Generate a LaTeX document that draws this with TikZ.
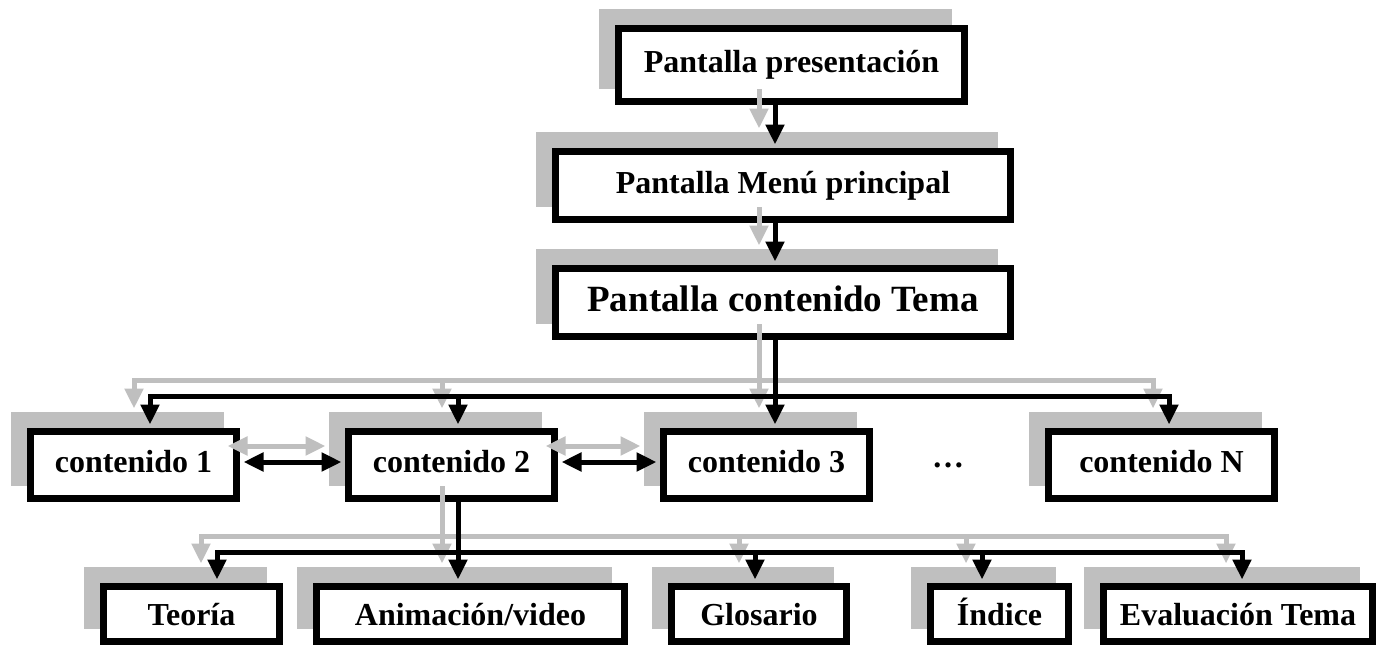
\documentclass[tikz,border=0pt]{standalone}
\usepackage{fontspec}
\setmainfont{Liberation Serif}
\usetikzlibrary{arrows.meta, positioning, shadows}
\tikzset{
    % Screen box style
    screen/.style={
        rectangle,
        draw=black,
        fill=white,
        line width=7pt,
        inner sep=0pt,
        minimum height=67pt,
        text height=22pt,
        text depth=7pt,
        align=center,
        font=\fontsize{32}{38}\selectfont\bfseries,
        drop shadow={shadow xshift=-16pt, shadow yshift=16pt, fill=black!25, draw=black!25, opacity=1}
    },
    % Bottom row box
    section/.style={
        screen,
        minimum height=55pt,
        text depth=0pt
    },
    % Arrow style
    arrow/.style={
        -{Triangle[length=20pt,width=18pt]},
        line width=5pt,
        color=black,
        shorten >=3.5pt
    },
    % Two-way arrow
    twoway/.style={
        arrow,
        {Triangle[length=20pt,width=18pt]}-{Triangle[length=20pt,width=18pt]},
        shorten <=3.5pt
    },
    % Plain connector
    link/.style={
        line width=5pt,
        color=black
    },
    % Grey copy of the connectors
    ghost/.style={
        color=black!25,
        transform canvas={shift={(-16pt,16pt)}}
    }
}
\begin{document}
\begin{tikzpicture}[x=1pt, y=-1pt]
    \useasboundingbox (0,0) rectangle (1381,645);

    % Main screens
    \node (pres) [screen, minimum width=346pt, minimum height=73pt] at (791.5,65) {Pantalla presentación};
    \node (menu) [screen, minimum width=455pt, minimum height=68pt] at (783,185.5) {Pantalla Menú principal};
    \node (tema) [screen, minimum width=455pt, minimum height=68pt, text height=25pt, text depth=8pt,
        font=\fontsize{37}{44}\selectfont\bfseries] at (783,302.5) {Pantalla contenido Tema};

    % Contents
    \node (c1) [screen, minimum width=206pt] at (133.5,465) {contenido 1};
    \node (c2) [screen, minimum width=206pt] at (451.5,465) {contenido 2};
    \node (c3) [screen, minimum width=206pt] at (766.5,465) {contenido 3};
    \node (dots) [font=\fontsize{32}{38}\selectfont\bfseries] at (948,465) {…};
    \node (cN) [screen, minimum width=226pt] at (1161.5,465) {contenido N};

    % Sections of a content
    \node (teoria) [section, minimum width=176pt] at (191.5,614) {Teoría};
    \node (anim) [section, minimum width=308pt] at (470.5,614) {Animación/video};
    \node (glos) [section, minimum width=175pt] at (759,614) {Glosario};
    \node (indice) [section, minimum width=138pt] at (999.5,614) {Índice};
    \node (eval) [section, minimum width=269pt] at (1238,614) {Evaluación Tema};

    \coordinate (spine) at (775,0);
    \coordinate (bus1) at (775,396);
    \coordinate (bus2) at (458,552);

    % Grey connectors
    \draw [arrow, ghost] (pres.south -| spine) -- (menu.north -| spine);
    \draw [arrow, ghost] (menu.south -| spine) -- (tema.north -| spine);
    \draw [link, ghost] (tema.south -| spine) -- (bus1);
    \draw [arrow, ghost] (bus1) -| ([xshift=16.5pt]c1.north);
    \draw [arrow, ghost] (bus1) -| ([xshift=6.5pt]c2.north);
    \draw [arrow, ghost] (bus1) -| (c3.north -| spine);
    \draw [arrow, ghost] (bus1) -| ([xshift=7.5pt]cN.north);
    \draw [twoway, ghost] ([yshift=3pt]c1.east) -- ([yshift=3pt]c2.west);
    \draw [twoway, ghost] ([yshift=3pt]c2.east) -- ([yshift=3pt]c3.west);
    \draw [link, ghost] (c2.south -| bus2) -- (bus2);
    \draw [arrow, ghost] (bus2) -| ([xshift=25.5pt]teoria.north);
    \draw [arrow, ghost] (bus2) -| (anim.north -| bus2);
    \draw [arrow, ghost] (bus2) -| ([xshift=-4pt]glos.north);
    \draw [arrow, ghost] (bus2) -| ([xshift=-17.5pt]indice.north);
    \draw [arrow, ghost] (bus2) -| ([xshift=4pt]eval.north);

    % Black connectors
    \draw [arrow] (pres.south -| spine) -- (menu.north -| spine);
    \draw [arrow] (menu.south -| spine) -- (tema.north -| spine);
    \draw [link] (tema.south -| spine) -- (bus1);
    \draw [arrow] (bus1) -| ([xshift=16.5pt]c1.north);
    \draw [arrow] (bus1) -| ([xshift=6.5pt]c2.north);
    \draw [arrow] (bus1) -| (c3.north -| spine);
    \draw [arrow] (bus1) -| ([xshift=7.5pt]cN.north);
    \draw [twoway] ([yshift=3pt]c1.east) -- ([yshift=3pt]c2.west);
    \draw [twoway] ([yshift=3pt]c2.east) -- ([yshift=3pt]c3.west);
    \draw [link] (c2.south -| bus2) -- (bus2);
    \draw [arrow] (bus2) -| ([xshift=25.5pt]teoria.north);
    \draw [arrow] (bus2) -| (anim.north -| bus2);
    \draw [arrow] (bus2) -| ([xshift=-4pt]glos.north);
    \draw [arrow] (bus2) -| ([xshift=-17.5pt]indice.north);
    \draw [arrow] (bus2) -| ([xshift=4pt]eval.north);
\end{tikzpicture}
\end{document}
